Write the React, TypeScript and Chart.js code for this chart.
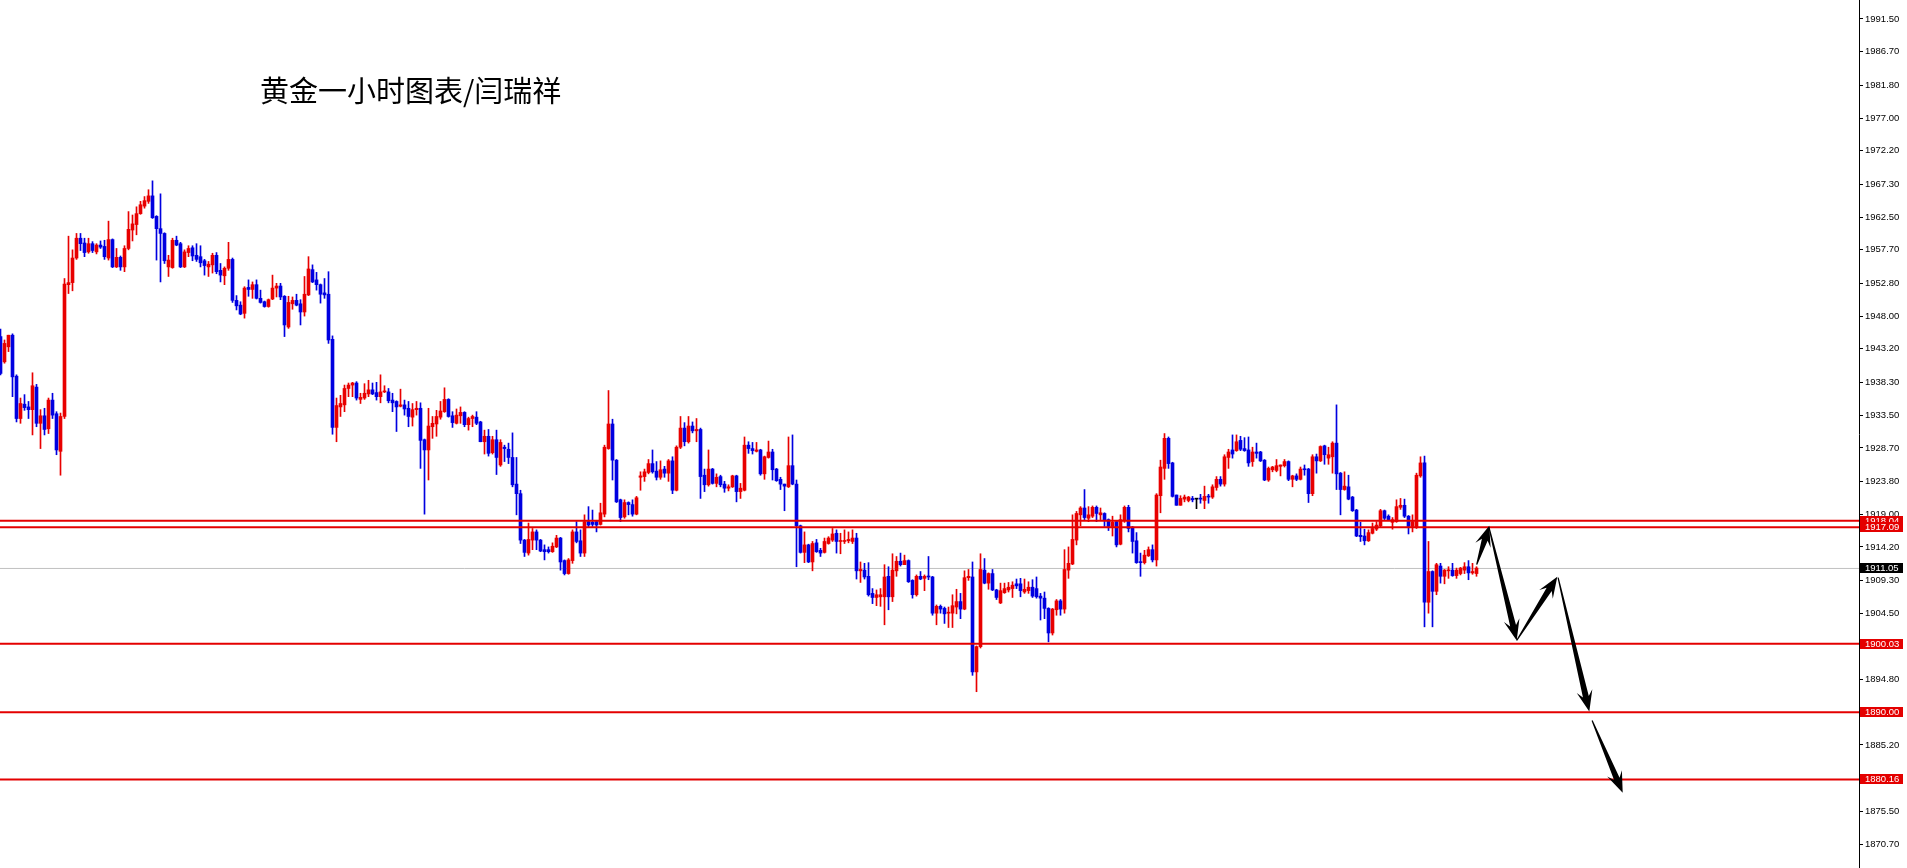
import React, { useEffect, useRef } from 'react';
import { Chart, registerables } from 'chart.js';

Chart.register(...registerables);

// ---- Data (hourly gold candles) ----
const opens = [
  1945.0, 1941.3, 1943.5, 1945.2, 1939.2, 1933.0, 1935.1, 1934.7, 1934.3, 1937.6,
  1932.3, 1933.4, 1931.5, 1935.7, 1933.7, 1928.2, 1933.3, 1952.6, 1952.9, 1956.5,
  1959.4, 1958.7, 1957.4, 1958.6, 1957.4, 1958.4, 1958.2, 1956.5, 1959.2, 1955.2,
  1956.6, 1955.2, 1957.9, 1960.6, 1961.4, 1963.0, 1964.1, 1964.8, 1965.6, 1962.6,
  1960.8, 1960.1, 1955.2, 1955.1, 1959.1, 1958.6, 1955.2, 1957.3, 1958.0, 1956.9,
  1956.7, 1956.1, 1955.2, 1955.5, 1956.9, 1954.7, 1953.9, 1955.0, 1956.3, 1950.3,
  1949.6, 1948.4, 1952.2,
  1951.9, 1952.6, 1950.6, 1950.1, 1949.4, 1950.5, 1952.1,
  1952.4, 1950.9, 1946.4, 1949.8, 1950.3, 1949.8, 1948.6, 1951.1, 1954.8, 1953.3,
  1952.6, 1951.4, 1951.2, 1944.6, 1931.7, 1934.7, 1935.0, 1937.4, 1937.9, 1938.2,
  1935.8, 1936.0, 1936.6, 1937.2, 1936.8, 1936.2, 1936.9, 1936.9, 1935.7, 1935.5,
  1934.8, 1935.0, 1934.5, 1933.2, 1934.3, 1934.5, 1929.9, 1928.4, 1931.8, 1932.2,
  1933.2, 1934.0, 1935.8, 1933.4, 1932.3, 1933.4, 1933.9, 1932.1, 1933.0, 1933.2,
  1932.5, 1929.6, 1930.4, 1928.0, 1929.9,
  1926.2, 1928.8, 1928.5, 1927.3, 1923.4,
  1922.0, 1915.2, 1913.3, 1915.2, 1916.4, 1915.2, 1913.8, 1913.8, 1913.5, 1914.2,
  1915.5, 1912.2, 1910.3, 1912.2, 1916.4, 1915.1, 1913.3, 1917.9, 1917.8, 1917.9,
  1917.5, 1919.0, 1928.6, 1932.2, 1926.9, 1921.1, 1918.6, 1920.7, 1920.4, 1919.0,
  1924.4, 1924.5, 1925.1, 1926.4, 1925.3, 1924.4, 1925.6, 1925.0, 1926.8, 1922.5,
  1928.8, 1931.6, 1929.6, 1931.9, 1931.2, 1931.4, 1924.7, 1923.3, 1925.6, 1923.5,
  1924.5, 1923.4, 1922.8, 1923.0, 1924.6, 1922.3, 1922.5, 1929.1,
  1928.6, 1928.2,
  1928.4, 1924.9, 1927.3, 1928.1, 1925.6, 1924.1, 1923.4, 1923.0, 1926.1, 1923.4,
  1917.3, 1913.4, 1914.5, 1912.0, 1914.8, 1913.7, 1913.4, 1914.7, 1915.2, 1916.2,
  1915.0, 1915.0, 1915.1, 1915.0, 1915.5, 1910.7, 1910.8, 1909.9, 1907.4, 1906.8,
  1906.9, 1906.9, 1909.9, 1906.9, 1910.7, 1912.1, 1911.6, 1912.2, 1909.3, 1907.2,
  1909.9, 1909.6, 1909.9, 1909.8, 1904.5, 1905.5, 1905.2, 1904.5, 1904.5, 1905.4,
  1906.2, 1905.1, 1909.7, 1909.8, 1895.9, 1899.6, 1910.8, 1908.9, 1910.3, 1907.9,
  1906.0, 1907.5, 1907.9, 1908.1, 1908.8, 1908.8, 1907.6, 1907.8, 1908.3, 1908.1,
  1907.0, 1906.7, 1905.2, 1901.6, 1905.0, 1906.3, 1905.1, 1910.8, 1911.7, 1915.2,
  1918.9, 1919.9, 1918.4, 1918.7, 1920.0, 1918.9, 1919.1, 1918.2, 1917.2, 1917.9,
  1914.6, 1918.1, 1920.0, 1917.1, 1915.1, 1912.0, 1911.9, 1912.9, 1913.8, 1912.3,
  1921.7, 1925.7, 1930.1, 1926.5, 1921.8, 1920.3, 1921.2, 1921.0, 1921.3, 1921.2,
  1921.3, 1921.0, 1921.6, 1921.5, 1922.9, 1924.1, 1923.4, 1927.3, 1928.4, 1928.3,
  1929.8, 1928.6, 1928.4,
  1926.7, 1928.1, 1928.1, 1926.9, 1924.0, 1925.5, 1925.4,
  1926.0, 1926.1, 1926.7, 1924.1, 1924.6, 1924.1, 1925.6, 1925.6, 1922.0, 1927.4,
  1926.8, 1929.0, 1927.2, 1927.4, 1929.4, 1925.0, 1922.6, 1923.0, 1921.5, 1919.6,
  1915.9, 1915.8, 1915.1, 1916.2, 1916.8, 1917.3, 1919.5, 1918.7, 1917.8, 1917.9,
  1920.0, 1920.3, 1918.7, 1917.2, 1917.1, 1924.6, 1926.5, 1906.1, 1910.6, 1907.7,
  1911.4, 1909.9, 1910.7, 1910.8, 1910.0, 1910.3, 1910.8, 1911.3, 1910.4, 1910.3,
];

const highs = [
  1946.1, 1944.5, 1945.2, 1945.4, 1939.4, 1936.0, 1936.5, 1935.5, 1939.7, 1938.0,
  1934.3, 1934.5, 1936.0, 1936.7, 1934.0, 1933.8, 1953.5, 1959.7, 1957.7, 1960.1,
  1960.1, 1959.4, 1959.4, 1958.9, 1958.6, 1959.0, 1959.1, 1961.9, 1959.3, 1957.9,
  1956.8, 1958.3, 1963.3, 1962.8, 1964.0, 1964.8, 1965.5, 1966.5, 1967.8, 1962.7,
  1965.9, 1960.2, 1956.9, 1959.4, 1959.7, 1958.8, 1957.7, 1958.3, 1958.3, 1958.6,
  1958.3, 1956.3, 1956.0, 1957.2, 1957.3, 1955.7, 1955.2, 1958.8, 1956.5, 1951.0,
  1950.1, 1952.3, 1953.3,
  1953.0, 1953.3, 1951.8, 1950.2, 1950.5, 1954.0, 1952.8,
  1952.8, 1951.0, 1950.9, 1950.8, 1951.2, 1950.4, 1953.8, 1956.7, 1955.5, 1954.4,
  1952.7, 1953.5, 1954.5, 1945.1, 1936.0, 1936.4, 1937.9, 1938.2, 1938.3, 1938.4,
  1936.7, 1938.1, 1938.6, 1938.2, 1938.3, 1939.4, 1937.8, 1937.4, 1936.7, 1935.6,
  1937.3, 1935.7, 1935.5, 1935.2, 1935.5, 1935.3, 1930.0, 1934.5, 1933.3, 1934.2,
  1935.5, 1937.5, 1935.9, 1934.0, 1934.4, 1934.7, 1934.0, 1933.2, 1933.5, 1934.0,
  1932.6, 1931.3, 1931.4, 1930.4, 1931.3,
  1929.9, 1929.1, 1929.4, 1930.9, 1927.3,
  1922.5, 1915.3, 1917.7, 1916.9, 1916.7, 1915.3, 1914.5, 1914.2, 1914.8, 1915.9,
  1915.6, 1912.3, 1912.5, 1916.7, 1917.9, 1916.7, 1918.9, 1920.1, 1919.6, 1918.1,
  1920.6, 1929.1, 1937.1, 1932.9, 1927.0, 1921.2, 1921.1, 1920.8, 1921.1, 1921.6,
  1925.2, 1925.6, 1927.0, 1928.4, 1926.7, 1926.8, 1926.0, 1927.0, 1927.4, 1929.0,
  1933.3, 1932.4, 1933.3, 1932.5, 1933.0, 1931.6, 1925.6, 1928.4, 1925.7, 1924.9,
  1924.7, 1923.8, 1923.3, 1924.7, 1924.7, 1923.5, 1930.3, 1929.6,
  1929.5, 1929.5,
  1928.5, 1927.5, 1929.7, 1928.5, 1925.7, 1924.4, 1923.4, 1930.3, 1930.6, 1924.0,
  1917.4, 1916.4, 1914.6, 1915.0, 1915.3, 1914.0, 1915.5, 1915.7, 1916.9, 1916.7,
  1916.2, 1916.7, 1916.4, 1916.7, 1916.2, 1912.0, 1911.8, 1911.9, 1908.1, 1907.9,
  1908.1, 1911.6, 1911.3, 1913.2, 1912.8, 1913.3, 1913.0, 1912.3, 1909.4, 1910.1,
  1910.6, 1910.1, 1912.8, 1909.9, 1905.7, 1905.7, 1905.4, 1905.4, 1907.2, 1908.0,
  1907.4, 1910.7, 1910.9, 1912.0, 1899.7, 1913.2, 1912.5, 1910.4, 1910.9, 1908.0,
  1908.9, 1908.9, 1909.0, 1909.1, 1909.5, 1909.6, 1909.5, 1909.1, 1909.4, 1909.8,
  1907.4, 1907.6, 1905.3, 1905.2, 1906.5, 1906.5, 1913.8, 1914.2, 1918.9, 1919.4,
  1920.1, 1922.6, 1920.1, 1920.2, 1920.2, 1919.9, 1919.2, 1918.3, 1918.7, 1918.0,
  1918.9, 1920.2, 1920.3, 1917.2, 1916.3, 1913.3, 1913.7, 1914.2, 1914.5, 1922.0,
  1926.9, 1930.8, 1930.3, 1926.6, 1921.8, 1921.7, 1921.8, 1921.6, 1921.6, 1921.3,
  1921.9, 1923.1, 1921.9, 1923.3, 1924.5, 1924.5, 1927.7, 1928.5, 1930.6, 1930.6,
  1930.4, 1930.2, 1930.3,
  1928.8, 1929.4, 1928.2, 1927.0, 1925.9, 1926.0, 1927.0,
  1926.2, 1927.0, 1926.8, 1924.7, 1924.9, 1925.9, 1926.2, 1925.7, 1927.7, 1927.8,
  1929.0, 1929.1, 1928.8, 1929.6, 1935.0, 1925.1, 1925.2, 1924.7, 1921.6, 1919.7,
  1917.8, 1916.8, 1916.7, 1917.7, 1917.9, 1919.7, 1919.6, 1918.9, 1918.5, 1921.1,
  1921.3, 1921.2, 1918.8, 1918.9, 1925.0, 1927.4, 1927.5, 1915.0, 1910.7, 1911.8,
  1911.8, 1910.9, 1911.3, 1911.8, 1911.1, 1911.2, 1911.9, 1912.2, 1911.8, 1911.3,
];

const lows = [
  1939.4, 1941.1, 1942.8, 1936.2, 1932.5, 1932.3, 1934.2, 1933.0, 1930.6, 1931.8,
  1928.6, 1930.6, 1930.8, 1933.0, 1927.7, 1924.7, 1933.0, 1951.3, 1951.7, 1956.3,
  1957.6, 1956.7, 1957.2, 1957.3, 1957.1, 1957.9, 1956.3, 1956.2, 1955.1, 1955.1,
  1954.7, 1954.5, 1957.7, 1959.0, 1959.9, 1962.9, 1963.8, 1964.5, 1962.3, 1956.2,
  1953.0, 1955.7, 1953.8, 1955.0, 1958.3, 1955.1, 1955.1, 1956.7, 1956.1, 1956.0,
  1955.2, 1954.0, 1953.8, 1954.3, 1954.2, 1953.0, 1952.6, 1954.7, 1950.0, 1948.9,
  1948.2, 1947.7, 1950.9,
  1950.6, 1950.5, 1949.9, 1949.3, 1949.3, 1950.4, 1950.8,
  1950.4, 1945.0, 1946.2, 1949.0, 1949.5, 1946.7, 1948.0, 1951.0, 1952.9, 1951.8,
  1949.9, 1950.6, 1944.0, 1930.7, 1929.6, 1933.3, 1934.0, 1936.2, 1936.2, 1935.7,
  1935.2, 1935.8, 1936.2, 1936.5, 1935.7, 1935.3, 1936.8, 1935.3, 1934.0, 1931.1,
  1934.7, 1933.5, 1931.8, 1931.9, 1933.5, 1925.7, 1919.0, 1924.0, 1930.1, 1930.4,
  1932.9, 1933.9, 1933.2, 1931.7, 1932.2, 1932.3, 1931.8, 1931.3, 1931.8, 1932.1,
  1929.6, 1927.8, 1927.5, 1927.8, 1924.8,
  1926.0, 1926.7, 1926.4, 1923.0, 1918.9,
  1914.7, 1912.8, 1913.0, 1913.8, 1913.8, 1913.5, 1912.3, 1913.3, 1913.4, 1914.1,
  1910.8, 1910.1, 1910.2, 1911.8, 1914.8, 1912.8, 1912.8, 1917.1, 1917.2, 1916.4,
  1917.4, 1918.6, 1928.5, 1924.0, 1920.7, 1917.9, 1918.4, 1918.9, 1918.7, 1918.9,
  1922.5, 1923.8, 1924.9, 1925.0, 1924.0, 1924.1, 1924.4, 1923.8, 1922.0, 1922.4,
  1928.6, 1929.0, 1929.4, 1930.9, 1929.6, 1921.3, 1922.3, 1923.1, 1923.4, 1923.0,
  1923.0, 1922.2, 1922.4, 1922.9, 1920.8, 1921.3, 1922.4, 1927.9,
  1927.8, 1928.1,
  1924.7, 1924.1, 1927.2, 1924.0, 1923.8, 1922.6, 1919.5, 1922.9, 1923.3, 1911.3,
  1913.3, 1911.9, 1911.9, 1910.7, 1913.4, 1912.8, 1913.3, 1914.6, 1915.0, 1913.3,
  1913.2, 1914.7, 1914.8, 1914.7, 1909.5, 1909.0, 1909.5, 1907.0, 1905.9, 1905.6,
  1905.5, 1902.8, 1905.0, 1906.2, 1909.9, 1911.4, 1911.6, 1909.0, 1906.7, 1907.0,
  1909.4, 1907.8, 1909.4, 1904.2, 1902.8, 1904.5, 1903.0, 1902.4, 1902.4, 1904.4,
  1903.7, 1905.0, 1909.3, 1895.4, 1893.0, 1899.4, 1908.8, 1908.0, 1907.8, 1906.5,
  1905.9, 1907.4, 1907.6, 1906.8, 1908.1, 1906.9, 1907.4, 1907.4, 1906.8, 1906.7,
  1903.5, 1903.7, 1900.3, 1901.3, 1904.2, 1904.2, 1904.5, 1909.6, 1911.6, 1914.5,
  1917.3, 1918.2, 1917.9, 1918.5, 1917.9, 1918.2, 1917.2, 1916.6, 1915.8, 1914.2,
  1914.5, 1917.8, 1916.4, 1913.3, 1911.8, 1909.9, 1911.7, 1912.8, 1912.0, 1911.4,
  1919.2, 1924.1, 1925.7, 1921.5, 1920.3, 1920.3, 1920.8, 1920.8, 1920.8, 1919.8,
  1920.6, 1919.8, 1920.6, 1921.3, 1922.5, 1923.1, 1923.1, 1925.7, 1927.2, 1928.2,
  1928.3, 1928.2, 1926.0,
  1926.0, 1927.2, 1926.7, 1923.9, 1923.8, 1925.2, 1925.2,
  1924.6, 1925.9, 1923.9, 1923.0, 1923.9, 1924.0, 1924.7, 1920.7, 1921.7, 1925.0,
  1926.7, 1926.3, 1926.3, 1925.0, 1922.6, 1918.9, 1922.5, 1921.1, 1919.4, 1915.7,
  1915.0, 1914.5, 1915.0, 1916.1, 1916.6, 1917.1, 1918.2, 1918.1, 1916.8, 1917.8,
  1919.7, 1918.5, 1916.1, 1916.4, 1916.9, 1924.4, 1902.5, 1904.5, 1902.5, 1907.2,
  1908.9, 1908.8, 1909.6, 1909.9, 1909.6, 1910.1, 1910.3, 1909.4, 1910.2, 1909.9,
];

const closes = [
  1939.6, 1944.0, 1945.2, 1939.1, 1933.0, 1935.2, 1934.6, 1934.3, 1937.8, 1932.3,
  1933.4, 1931.4, 1935.7, 1933.5, 1928.4, 1933.3, 1952.7, 1952.9, 1956.5, 1959.4,
  1958.6, 1957.3, 1958.6, 1957.6, 1958.4, 1958.1, 1956.7, 1959.2, 1955.2, 1956.6,
  1955.2, 1957.9, 1960.7, 1961.5, 1963.0, 1964.3, 1964.9, 1965.6, 1962.4, 1960.8,
  1960.1, 1956.1, 1956.2, 1959.1, 1958.4, 1955.2, 1957.4, 1957.9, 1956.8, 1956.3,
  1955.8, 1955.4, 1955.6, 1956.9, 1954.5, 1954.0, 1955.0, 1956.3, 1950.3, 1949.5,
  1948.3, 1952.1, 1951.9,
  1952.6, 1950.6, 1950.0, 1949.4, 1950.4, 1952.1, 1952.4,
  1950.8, 1946.7, 1950.0, 1950.3, 1949.6, 1948.6, 1951.2, 1954.9, 1953.0, 1952.6,
  1951.2, 1951.1, 1944.5, 1931.7, 1934.9, 1935.2, 1937.4, 1937.9, 1938.2, 1936.0,
  1936.1, 1936.7, 1937.2, 1936.6, 1936.2, 1936.9, 1937.0, 1935.6, 1935.3, 1934.7,
  1935.0, 1934.4, 1933.3, 1934.3, 1934.5, 1929.8, 1928.4, 1931.9, 1932.3, 1933.3,
  1934.1, 1935.8, 1933.3, 1932.4, 1933.5, 1933.9, 1932.1, 1933.0, 1933.3, 1932.3,
  1929.6, 1930.4, 1927.9, 1929.9, 1927.3,
  1929.5, 1928.6, 1927.3, 1923.3, 1922.0,
  1915.2, 1913.4, 1915.3, 1916.4, 1915.2, 1913.6, 1913.5, 1913.5, 1914.3, 1915.5,
  1912.0, 1910.3, 1912.3, 1916.4, 1915.0, 1913.3, 1917.9, 1917.4, 1917.5, 1917.4,
  1919.2, 1928.8, 1932.2, 1926.9, 1920.8, 1918.5, 1920.7, 1920.4, 1919.0, 1921.4,
  1924.6, 1925.2, 1926.4, 1925.2, 1924.4, 1925.5, 1925.0, 1926.8, 1922.5, 1928.8,
  1931.6, 1929.6, 1931.9, 1931.2, 1931.4, 1924.5, 1923.3, 1925.6, 1923.5, 1924.4,
  1923.3, 1922.8, 1923.0, 1924.6, 1922.3, 1922.8, 1929.1, 1928.6,
  1928.3, 1928.4,
  1924.9, 1927.4, 1928.1, 1925.5, 1923.9, 1923.4, 1923.1, 1926.1, 1923.4, 1917.3,
  1913.4, 1914.5, 1912.0, 1914.7, 1913.5, 1913.3, 1915.0, 1915.5, 1916.1, 1915.0,
  1915.1, 1915.1, 1915.3, 1915.5, 1910.7, 1910.9, 1909.8, 1907.2, 1906.8, 1907.2,
  1907.2, 1909.8, 1906.9, 1910.8, 1912.1, 1911.6, 1912.2, 1909.1, 1907.2, 1909.9,
  1909.5, 1909.9, 1909.8, 1904.5, 1905.5, 1905.1, 1904.4, 1904.6, 1905.6, 1906.2,
  1905.1, 1909.7, 1909.9, 1895.9, 1899.6, 1910.9, 1908.9, 1910.3, 1907.9, 1906.8,
  1907.8, 1908.1, 1908.3, 1908.6, 1908.5, 1907.8, 1908.0, 1908.3, 1907.0, 1906.9,
  1906.7, 1905.2, 1901.6, 1905.1, 1906.3, 1905.1, 1910.9, 1911.8, 1915.3, 1919.1,
  1919.9, 1918.5, 1918.9, 1920.0, 1919.1, 1919.2, 1918.1, 1917.2, 1917.8, 1914.5,
  1918.2, 1920.0, 1916.9, 1915.0, 1911.9, 1911.9, 1913.0, 1913.8, 1912.3, 1921.8,
  1925.9, 1930.1, 1926.4, 1921.6, 1920.3, 1921.3, 1921.5, 1921.5, 1921.1, 1921.2,
  1921.2, 1921.6, 1921.5, 1923.0, 1924.1, 1923.4, 1927.4, 1928.1, 1927.8, 1929.6,
  1928.5, 1928.3, 1926.5,
  1928.1, 1927.9, 1926.8, 1924.0, 1925.7, 1925.9, 1926.1,
  1926.2, 1926.7, 1924.1, 1924.6, 1924.1, 1925.6, 1925.5, 1922.0, 1927.4, 1926.8,
  1928.9, 1927.7, 1927.7, 1929.4, 1924.9, 1922.6, 1923.1, 1921.2, 1919.5, 1915.8,
  1915.7, 1915.1, 1916.3, 1916.9, 1917.4, 1919.5, 1918.4, 1918.2, 1918.2, 1920.1,
  1920.3, 1918.7, 1917.2, 1917.9, 1924.7, 1926.5, 1906.1, 1910.6, 1907.7, 1911.6,
  1909.9, 1910.8, 1910.8, 1910.0, 1910.8, 1911.1, 1911.3, 1910.4, 1910.6, 1911.1,
];

const yTicks = [
  1991.5, 1986.7, 1981.8, 1977.0, 1972.2, 1967.3, 1962.5, 1957.7, 1952.8, 1948.0,
  1943.2, 1938.3, 1933.5, 1928.7, 1923.8, 1919.0, 1914.2, 1909.3, 1904.5, 1899.7,
  1894.8, 1890.0, 1885.2, 1880.3, 1875.5, 1870.7,
];

const levels = [1918.04, 1917.09, 1900.03, 1890.0, 1880.16];
const currentPrice = 1911.05;
const titleText = '黄金一小时图表/闫瑞祥';

// forecast arrows: [bar index, price]
const arrowTails = [[369.05, 1911.6], [372.1, 1917.1], [379.05, 1900.5], [389.4, 1909.7], [397.9, 1888.8]];
const arrowTips = [[372.2, 1917.3], [379.05, 1900.5], [389.2, 1909.85], [397.2, 1890.1], [405.55, 1878.2]];

const X_MIN = -0.125;
const X_MAX = 464.625;
const Y_MIN = 1867.19;
const Y_MAX = 1994.28;

const UP = '#e80000';
const DOWN = '#0000e0';
const DOJI = '#000000';
const LEVEL_RED = '#e40000';
const AXIS_FONT = { family: 'Liberation Sans', size: 9.5 };

function drawArrow(ctx: CanvasRenderingContext2D, x1: number, y1: number, x2: number, y2: number) {
  const dx = x2 - x1;
  const dy = y2 - y1;
  const len = Math.hypot(dx, dy);
  if (len < 1) return;
  const ux = dx / len;
  const uy = dy / len;
  const nx = -uy;
  const ny = ux;
  const hl = Math.min(21, len * 0.5);
  const hw = 8;
  const sw = 3;
  const tw = 0.6;
  const bx = x2 - ux * hl;
  const by = y2 - uy * hl;
  const jx = x2 - ux * hl * 0.72;
  const jy = y2 - uy * hl * 0.72;
  ctx.beginPath();
  ctx.moveTo(x1 + nx * tw, y1 + ny * tw);
  ctx.lineTo(jx + nx * sw, jy + ny * sw);
  ctx.lineTo(bx + nx * hw, by + ny * hw);
  ctx.lineTo(x2, y2);
  ctx.lineTo(bx - nx * hw, by - ny * hw);
  ctx.lineTo(jx - nx * sw, jy - ny * sw);
  ctx.lineTo(x1 - nx * tw, y1 - ny * tw);
  ctx.closePath();
  ctx.fill();
}

const overlayPlugin = {
  id: 'overlay',
  afterDatasetsDraw(chart: any) {
    const { ctx, scales } = chart;
    const xs = scales.x;
    const ys = scales.y;
    ctx.save();
    ctx.fillStyle = '#000';
    for (let k = 0; k < arrowTails.length; k++) {
      const [ti, tp] = arrowTails[k];
      const [hi, hp] = arrowTips[k];
      drawArrow(ctx, xs.getPixelForValue(ti), ys.getPixelForValue(tp), xs.getPixelForValue(hi), ys.getPixelForValue(hp));
    }
    ctx.restore();
  },
  afterDraw(chart: any) {
    const { ctx, scales, chartArea } = chart;
    const ys = scales.y;
    ctx.save();
    // title
    ctx.fillStyle = '#000';
    ctx.font = '29px "Noto Sans CJK SC", sans-serif';
    ctx.textBaseline = 'middle';
    ctx.textAlign = 'left';
    ctx.fillText(titleText, 260, 91);
    // price boxes on the axis
    const boxX = chartArea.right + 1;
    const boxW = 43;
    const boxH = 10;
    ctx.font = `${AXIS_FONT.size}px "${AXIS_FONT.family}"`;
    const drawBox = (v: number, bg: string) => {
      const y = Math.round(ys.getPixelForValue(v));
      ctx.fillStyle = bg;
      ctx.fillRect(boxX, y - boxH / 2, boxW, boxH);
      ctx.fillStyle = '#fff';
      ctx.fillText(v.toFixed(2), boxX + 5, y + 0.5);
    };
    drawBox(currentPrice, '#000');
    levels.forEach((v) => drawBox(v, LEVEL_RED));
    ctx.restore();
  },
};

export default function App() {
  const canvasRef = useRef<HTMLCanvasElement | null>(null);

  useEffect(() => {
    const canvas = canvasRef.current;
    if (!canvas) return;
    const n = Math.min(opens.length, highs.length, lows.length, closes.length);
    const idx = Array.from({ length: n }, (_, i) => i);
    const colors = idx.map((i) => (closes[i] > opens[i] ? UP : closes[i] < opens[i] ? DOWN : DOJI));

    const levelSets = levels.map((v) => ({
      type: 'line' as const,
      data: [{ x: X_MIN, y: v }, { x: X_MAX, y: v }],
      borderColor: LEVEL_RED,
      borderWidth: 2,
      pointRadius: 0,
      order: 0,
    }));

    const chart = new Chart(canvas, {
      type: 'bar',
      data: {
        datasets: [
          {
            type: 'bar',
            data: idx.map((i) => ({ x: i, y: [opens[i], closes[i]] })) as any,
            backgroundColor: colors,
            barThickness: 3,
            minBarLength: 1,
            grouped: false,
            borderWidth: 0,
            order: 1,
          },
          {
            type: 'bar',
            data: idx.map((i) => ({ x: i, y: [lows[i], highs[i]] })) as any,
            backgroundColor: colors,
            barThickness: 1,
            grouped: false,
            borderWidth: 0,
            order: 2,
          },
          {
            type: 'line',
            data: [{ x: X_MIN, y: currentPrice }, { x: X_MAX, y: currentPrice }],
            borderColor: '#c0c0c0',
            borderWidth: 1,
            pointRadius: 0,
            order: 3,
          } as any,
          ...(levelSets as any[]),
        ],
      },
      options: {
        animation: false,
        responsive: false,
        events: [],
        layout: { padding: 0 },
        plugins: {
          legend: { display: false },
          tooltip: { enabled: false },
          title: { display: false },
        },
        scales: {
          x: {
            type: 'linear',
            min: X_MIN,
            max: X_MAX,
            display: false,
            offset: false,
          },
          y: {
            type: 'linear',
            position: 'right',
            min: Y_MIN,
            max: Y_MAX,
            afterBuildTicks: (scale: any) => {
              scale.ticks = yTicks.map((v) => ({ value: v }));
            },
            afterFit: (scale: any) => {
              scale.width = 48;
              scale.paddingTop = 0;
              scale.paddingBottom = 0;
            },
            grid: {
              drawOnChartArea: false,
              drawTicks: true,
              tickLength: 4,
              color: '#000',
            },
            border: { display: true, color: '#000', width: 1 },
            ticks: {
              autoSkip: false,
              padding: 2,
              color: '#000',
              font: AXIS_FONT,
              callback: (v: any) => Number(v).toFixed(2),
            },
          },
        },
      } as any,
      plugins: [overlayPlugin],
    });

    return () => chart.destroy();
  }, []);

  return (
    <div style={{ position: 'fixed', left: 0, top: 0, width: 1907, height: 868, background: '#fff' }}>
      <canvas ref={canvasRef} width={1907} height={868} style={{ display: 'block' }} />
    </div>
  );
}
